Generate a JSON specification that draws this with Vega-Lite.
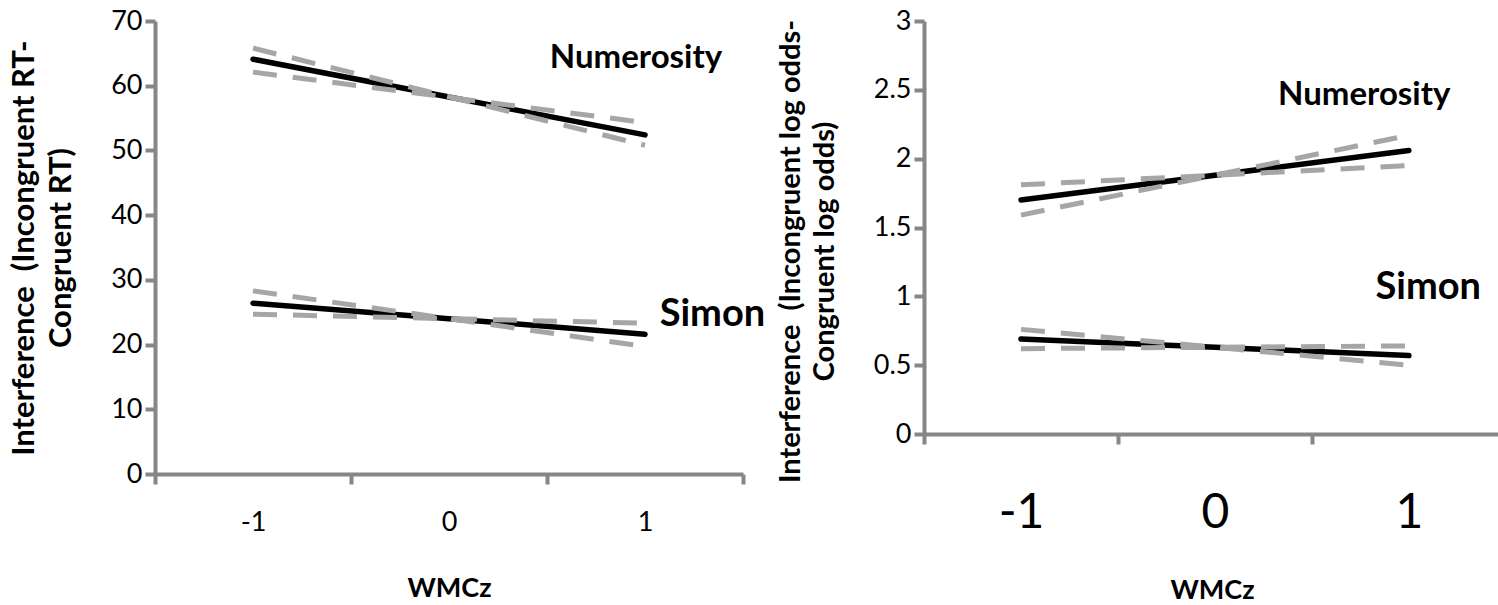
{
  "$schema": "https://vega.github.io/schema/vega-lite/v6.json",
  "background": "white",
  "padding": {"left": 8, "top": 7, "right": 0, "bottom": 0},
  "spacing": 10,
  "config": {
    "view": {"stroke": null},
    "font": "Lato",
    "axis": {
      "grid": false,
      "domainColor": "#868686",
      "domainWidth": 4,
      "tickColor": "#868686",
      "tickWidth": 4,
      "tickSize": 10,
      "labelFont": "Lato",
      "labelFontSize": 27,
      "labelColor": "#000000",
      "labelFlush": false,
      "labelOverlap": false,
      "labelBound": false,
      "titleFont": "Lato",
      "titleFontWeight": "bold",
      "titleColor": "#000000"
    }
  },
  "datasets": {
    "leftLines": [
      {"task": "Numerosity", "series": "fit", "x": -1, "y": 64.1},
      {"task": "Numerosity", "series": "fit", "x": 0, "y": 58.25},
      {"task": "Numerosity", "series": "fit", "x": 1, "y": 52.4},
      {"task": "Numerosity", "series": "ci_a", "x": -1, "y": 65.8},
      {"task": "Numerosity", "series": "ci_a", "x": 0, "y": 58.3},
      {"task": "Numerosity", "series": "ci_a", "x": 1, "y": 50.8},
      {"task": "Numerosity", "series": "ci_b", "x": -1, "y": 62.1},
      {"task": "Numerosity", "series": "ci_b", "x": 0, "y": 58.2},
      {"task": "Numerosity", "series": "ci_b", "x": 1, "y": 54.3},
      {"task": "Simon", "series": "fit", "x": -1, "y": 26.4},
      {"task": "Simon", "series": "fit", "x": 0, "y": 24.0},
      {"task": "Simon", "series": "fit", "x": 1, "y": 21.6},
      {"task": "Simon", "series": "ci_a", "x": -1, "y": 28.3},
      {"task": "Simon", "series": "ci_a", "x": 0, "y": 24.0},
      {"task": "Simon", "series": "ci_a", "x": 1, "y": 19.7},
      {"task": "Simon", "series": "ci_b", "x": -1, "y": 24.7},
      {"task": "Simon", "series": "ci_b", "x": 0, "y": 24.0},
      {"task": "Simon", "series": "ci_b", "x": 1, "y": 23.3}
    ],
    "leftLabels": [
      {"text": "Numerosity", "x": 0.954, "y": 62.8, "big": false},
      {"text": "Simon", "x": 1.344, "y": 22.9, "big": true}
    ],
    "rightLines": [
      {"task": "Numerosity", "series": "fit", "x": -1, "y": 1.70},
      {"task": "Numerosity", "series": "fit", "x": 0, "y": 1.88},
      {"task": "Numerosity", "series": "fit", "x": 1, "y": 2.06},
      {"task": "Numerosity", "series": "ci_a", "x": -1, "y": 1.59},
      {"task": "Numerosity", "series": "ci_a", "x": 0, "y": 1.88},
      {"task": "Numerosity", "series": "ci_a", "x": 1, "y": 2.17},
      {"task": "Numerosity", "series": "ci_b", "x": -1, "y": 1.81},
      {"task": "Numerosity", "series": "ci_b", "x": 0, "y": 1.88},
      {"task": "Numerosity", "series": "ci_b", "x": 1, "y": 1.95},
      {"task": "Simon", "series": "fit", "x": -1, "y": 0.69},
      {"task": "Simon", "series": "fit", "x": 0, "y": 0.63},
      {"task": "Simon", "series": "fit", "x": 1, "y": 0.57},
      {"task": "Simon", "series": "ci_a", "x": -1, "y": 0.76},
      {"task": "Simon", "series": "ci_a", "x": 0, "y": 0.63},
      {"task": "Simon", "series": "ci_a", "x": 1, "y": 0.50},
      {"task": "Simon", "series": "ci_b", "x": -1, "y": 0.62},
      {"task": "Simon", "series": "ci_b", "x": 0, "y": 0.63},
      {"task": "Simon", "series": "ci_b", "x": 1, "y": 0.64}
    ],
    "rightLabels": [
      {"text": "Numerosity", "x": 0.77, "y": 2.39, "big": false},
      {"text": "Simon", "x": 1.10, "y": 0.98, "big": true}
    ]
  },
  "hconcat": [
    {
      "width": 588,
      "height": 453,
      "encoding": {
        "x": {
          "field": "x", "type": "quantitative",
          "scale": {"domain": [-1.5, 1.5], "nice": false, "zero": false},
          "axis": {
            "values": [-1.5, -1, -0.5, 0, 0.5, 1, 1.5],
            "labelExpr": "datum.value === -1 ? '-1' : datum.value === 0 ? '0' : datum.value === 1 ? '1' : ''",
            "tickOpacity": {"condition": {"test": "abs(datum.value % 1) === 0.5", "value": 1}, "value": 0},
            "labelPadding": 25,
            "title": "WMCz",
            "titleFontSize": 27,
            "titlePadding": 40
          }
        },
        "y": {
          "field": "y", "type": "quantitative",
          "scale": {"domain": [0, 70], "nice": false},
          "axis": {
            "values": [0, 10, 20, 30, 40, 50, 60, 70],
            "labelPadding": 3,
            "title": ["Interference \u00a0(Incongruent RT-", "Congruent RT)"],
            "titleFontSize": 31,
            "titleLineHeight": 37,
            "titlePadding": 33
          }
        }
      },
      "layer": [
        {
          "data": {"name": "leftLines"},
          "transform": [{"filter": "datum.series === 'fit'"}],
          "mark": {"type": "line", "color": "#000000", "strokeWidth": 5.5, "strokeCap": "round"},
          "encoding": {"detail": {"field": "task"}}
        },
        {
          "data": {"name": "leftLines"},
          "transform": [{"filter": "datum.series !== 'fit'"}],
          "mark": {"type": "line", "color": "#A6A6A6", "strokeWidth": 5, "strokeDash": [24, 16]},
          "encoding": {"detail": [{"field": "task"}, {"field": "series"}]}
        },
        {
          "data": {"name": "leftLabels"},
          "mark": {"type": "text", "fontWeight": "bold", "align": "center", "baseline": "alphabetic", "color": "#000000"},
          "encoding": {
            "text": {"field": "text"},
            "size": {"field": "big", "type": "nominal", "scale": {"domain": [false, true], "range": [33, 38]}, "legend": null}
          }
        }
      ]
    },
    {
      "width": 576,
      "height": 413,
      "encoding": {
        "x": {
          "field": "x", "type": "quantitative",
          "scale": {"domain": [-1.5, 1.47], "nice": false, "zero": false},
          "axis": {
            "values": [-1.5, -1, -0.5, 0, 0.5, 1],
            "labelExpr": "datum.value === -1 ? '-1' : datum.value === 0 ? '0' : datum.value === 1 ? '1' : ''",
            "tickOpacity": {"condition": {"test": "abs(datum.value % 1) === 0.5", "value": 1}, "value": 0},
            "labelFontSize": 48,
            "labelPadding": 45,
            "title": "WMCz",
            "titleFontSize": 27,
            "titlePadding": 40
          }
        },
        "y": {
          "field": "y", "type": "quantitative",
          "scale": {"domain": [0, 3], "nice": false},
          "axis": {
            "values": [0, 0.5, 1, 1.5, 2, 2.5, 3],
            "format": "~g",
            "labelPadding": 3,
            "title": ["Interference \u00a0(Incongruent log odds-", "Congruent log odds)"],
            "titleFontSize": 29,
            "titleLineHeight": 34,
            "titlePadding": 34,
            "titleY": 230
          }
        }
      },
      "layer": [
        {
          "data": {"name": "rightLines"},
          "transform": [{"filter": "datum.series === 'fit'"}],
          "mark": {"type": "line", "color": "#000000", "strokeWidth": 5.5, "strokeCap": "round"},
          "encoding": {"detail": {"field": "task"}}
        },
        {
          "data": {"name": "rightLines"},
          "transform": [{"filter": "datum.series !== 'fit'"}],
          "mark": {"type": "line", "color": "#A6A6A6", "strokeWidth": 5, "strokeDash": [24, 16]},
          "encoding": {"detail": [{"field": "task"}, {"field": "series"}]}
        },
        {
          "data": {"name": "rightLabels"},
          "mark": {"type": "text", "fontWeight": "bold", "align": "center", "baseline": "alphabetic", "color": "#000000"},
          "encoding": {
            "text": {"field": "text"},
            "size": {"field": "big", "type": "nominal", "scale": {"domain": [false, true], "range": [33, 38]}, "legend": null}
          }
        }
      ]
    }
  ]
}
